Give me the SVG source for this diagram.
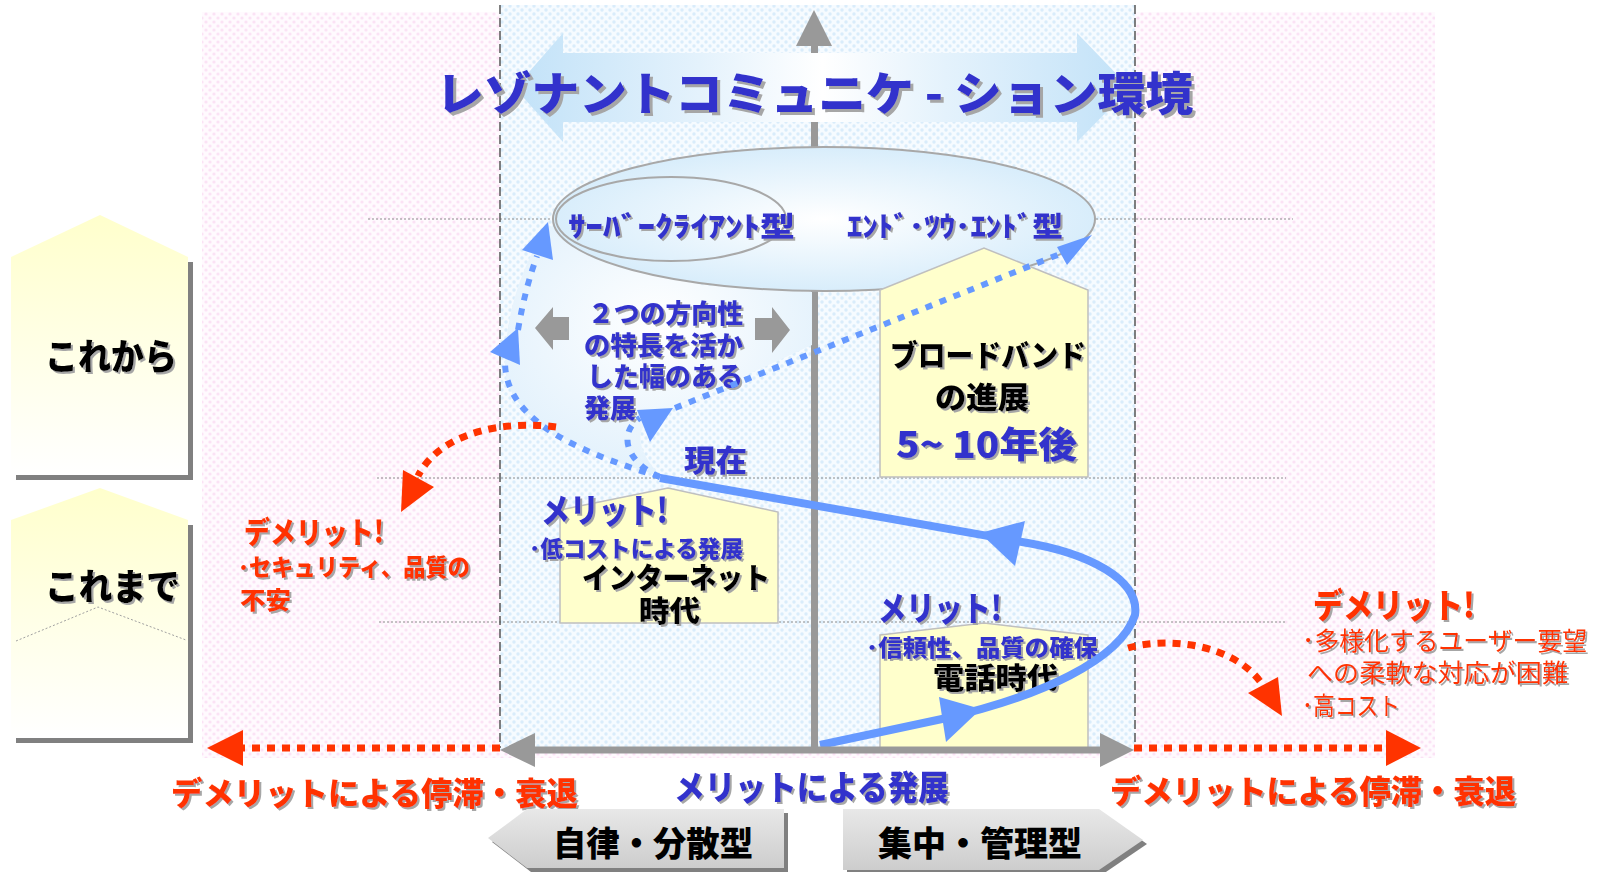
<svg xmlns="http://www.w3.org/2000/svg" width="1599" height="872" viewBox="0 0 1599 872">
<defs>
<pattern id="pinkDots" width="8" height="8" patternUnits="userSpaceOnUse"><rect width="8" height="8" fill="#fffafe"/><circle cx="2" cy="2" r="1.6" fill="#fbe2f5"/><circle cx="6" cy="6" r="1.6" fill="#fbe2f5"/></pattern>
<pattern id="blueDots" width="8" height="8" patternUnits="userSpaceOnUse"><rect width="8" height="8" fill="#f6fbff"/><circle cx="2" cy="2" r="1.7" fill="#d9ecfb"/><circle cx="6" cy="6" r="1.7" fill="#d9ecfb"/></pattern>
<linearGradient id="titleArrowG" x1="0" y1="0" x2="1" y2="0"><stop offset="0" stop-color="#c2e2f8"/><stop offset="0.3" stop-color="#e4f2fc"/><stop offset="0.5" stop-color="#ffffff"/><stop offset="0.7" stop-color="#e4f2fc"/><stop offset="1" stop-color="#c2e2f8"/></linearGradient>
<radialGradient id="ellG" cx="0.5" cy="0.5" r="0.5"><stop offset="0" stop-color="#ffffff"/><stop offset="1" stop-color="#d8edfb"/></radialGradient>
<radialGradient id="glowG" cx="0.5" cy="0.4" r="0.6"><stop offset="0" stop-color="#ffffff"/><stop offset="1" stop-color="#e2f1fc"/></radialGradient>
<linearGradient id="labelG" x1="0" y1="0" x2="0" y2="1"><stop offset="0" stop-color="#ffffcc"/><stop offset="1" stop-color="#ffffff"/></linearGradient>
<linearGradient id="pentG" x1="0" y1="0" x2="0" y2="1"><stop offset="0" stop-color="#e8e8e8"/><stop offset="1" stop-color="#cdcdcd"/></linearGradient>
<filter id="sh" x="-5%" y="-10%" width="115%" height="130%"><feDropShadow dx="2" dy="2" stdDeviation="0.3" flood-color="#a6a6a6" flood-opacity="1"/></filter>
<filter id="sh3" x="-5%" y="-10%" width="115%" height="130%"><feDropShadow dx="3" dy="3" stdDeviation="0.4" flood-color="#a6a6a6" flood-opacity="1"/></filter>
<style>
text{font-family:"Noto Sans CJK JP","Noto Sans CJK SC",sans-serif;font-weight:900;}
.blue{fill:#3333cc;}
.red{fill:#ff3300;}
.blk{fill:#000000;}
.thin{font-weight:normal;}
.guide{stroke:#8c8c8c;stroke-width:1;stroke-dasharray:2 2;fill:none;}
.vdash{stroke:#555555;stroke-width:1.5;stroke-dasharray:9 4;fill:none;}
.gray{fill:#999999;}
.ybox{fill:#ffffcc;stroke:#bfbfbf;stroke-width:1.5;}
.bdot{fill:none;stroke:#6699ff;stroke-width:6;stroke-dasharray:7 8;}
.rdot{fill:none;stroke:#ff3300;stroke-width:7;stroke-dasharray:8 7;}
.bhead{fill:#6699ff;}
.rhead{fill:#ff3300;}
</style>
</defs>

<g id="background">
<rect x="0" y="0" width="1599" height="872" fill="#ffffff"/>
<rect x="202" y="12" width="1233" height="746" fill="url(#pinkDots)"/>
<rect x="500" y="5" width="635" height="745" fill="url(#blueDots)"/>
<line class="guide" x1="368" y1="219" x2="1293" y2="219"/>
<line class="guide" x1="377" y1="478" x2="1286" y2="478"/>
<line class="guide" x1="379" y1="622" x2="1285" y2="622"/>
<line class="vdash" x1="500" y1="5" x2="500" y2="748"/>
<line class="vdash" x1="1135" y1="5" x2="1135" y2="748"/>
</g>

<g id="vertical-axis">
<rect class="gray" x="811" y="44" width="7" height="706"/>
<polygon class="gray" points="814,10 796,46 832,46"/>
</g>

<g id="title">
<polygon points="515,88 563,33 563,53 1077,53 1077,33 1130,88 1077,142 1077,122 563,122 563,142" fill="url(#titleArrowG)"/>
<text class="blue" x="436" y="110" font-size="46" textLength="757" lengthAdjust="spacingAndGlyphs" filter="url(#sh3)">レゾナントコミュニケ - ション環境</text>
</g>

<g id="glow">
<path d="M662,477 C580,450 505,420 505,365 C505,310 525,260 548,225 L700,285 L812,292 L812,345 L675,408 C640,415 625,440 662,477 Z" fill="url(#glowG)"/>
</g>

<g id="model-ellipse">
<ellipse cx="824" cy="219" rx="271" ry="72" fill="url(#ellG)" stroke="#a8a8a8" stroke-width="2"/>
<ellipse cx="671" cy="219" rx="115" ry="42" fill="none" stroke="#a8a8a8" stroke-width="2"/>
<text class="blue" x="568" y="237" font-size="28" textLength="227" lengthAdjust="spacingAndGlyphs" filter="url(#sh)">ｻｰﾊﾞｰｸﾗｲｱﾝﾄ型</text>
<text class="blue" x="847" y="237" font-size="28" textLength="216" lengthAdjust="spacingAndGlyphs" filter="url(#sh)">ｴﾝﾄﾞ･ﾂｳ･ｴﾝﾄﾞ型</text>
</g>

<g id="label-korekara">
<rect x="16" y="262" width="177" height="218" fill="#808080"/>
<polygon points="11,257 100,215 188,257 188,475 11,475" fill="url(#labelG)"/>
<text class="blk" x="45" y="370" font-size="36" textLength="132" lengthAdjust="spacingAndGlyphs" filter="url(#sh)">これから</text>
</g>

<g id="label-koremade">
<rect x="16" y="525" width="177" height="218" fill="#808080"/>
<polygon points="11,520 100,488 188,520 188,738 11,738" fill="url(#labelG)"/>
<polyline points="16,641 98,607 186,640" fill="none" stroke="#a0a0a0" stroke-width="1" stroke-dasharray="2 2"/>
<text class="blk" x="45" y="600" font-size="36" textLength="135" lengthAdjust="spacingAndGlyphs" filter="url(#sh)">これまで</text>
</g>

<g id="broadband">
<polygon class="ybox" points="880,290 984,248 1088,290 1088,477 880,477"/>
<text class="blk" x="890" y="366" font-size="30" textLength="196" lengthAdjust="spacingAndGlyphs" filter="url(#sh)">ブロードバンド</text>
<text class="blk" x="935" y="408" font-size="30" textLength="94" lengthAdjust="spacingAndGlyphs" filter="url(#sh)">の進展</text>
<text class="blue" x="896" y="458" font-size="36" textLength="181" lengthAdjust="spacingAndGlyphs" filter="url(#sh)">5~ 10年後</text>
</g>

<g id="internet">
<polygon class="ybox" points="560,510 668,488 778,512 778,623 560,623"/>
<text class="blue" x="541" y="523" font-size="34" textLength="127" lengthAdjust="spacingAndGlyphs" filter="url(#sh)">メリット!</text>
<text class="blue" x="529" y="557" font-size="23" textLength="214" lengthAdjust="spacingAndGlyphs" filter="url(#sh)">･低コストによる発展</text>
<text class="blk" x="582" y="589" font-size="29" textLength="188" lengthAdjust="spacingAndGlyphs" filter="url(#sh)">インターネット</text>
<text class="blk" x="639" y="622" font-size="29" textLength="61" lengthAdjust="spacingAndGlyphs" filter="url(#sh)">時代</text>
</g>

<g id="telephone">
<polygon class="ybox" points="880,635 984,623 1088,635 1088,748 880,748"/>
<text class="blue" x="878" y="621" font-size="34" textLength="124" lengthAdjust="spacingAndGlyphs" filter="url(#sh)">メリット!</text>
<text class="blue" x="866" y="656" font-size="23" textLength="232" lengthAdjust="spacingAndGlyphs" filter="url(#sh)">･信頼性、品質の確保</text>
<text class="blk" x="933" y="689" font-size="29" textLength="125" lengthAdjust="spacingAndGlyphs" filter="url(#sh)">電話時代</text>
</g>

<g id="two-directions">
<polygon class="gray" points="535,328 553,307 553,317 569,317 569,340 553,340 553,350"/>
<polygon class="gray" points="790,330 772,307 772,318 755,318 755,340 772,340 772,353"/>
<text class="blue" x="588" y="323" font-size="26" textLength="155" lengthAdjust="spacingAndGlyphs" filter="url(#sh)">２つの方向性</text>
<text class="blue" x="584" y="355" font-size="26" textLength="159" lengthAdjust="spacingAndGlyphs" filter="url(#sh)">の特長を活か</text>
<text class="blue" x="587" y="386" font-size="26" textLength="156" lengthAdjust="spacingAndGlyphs" filter="url(#sh)">した幅のある</text>
<text class="blue" x="584" y="418" font-size="26" textLength="52" lengthAdjust="spacingAndGlyphs" filter="url(#sh)">発展</text>
</g>

<g id="now">
<text class="blue" x="684" y="471" font-size="30" textLength="63" lengthAdjust="spacingAndGlyphs" filter="url(#sh)">現在</text>
</g>

<g id="demerit-left">
<text class="red" x="244" y="543" font-size="30" textLength="140" lengthAdjust="spacingAndGlyphs" filter="url(#sh)">デメリット!</text>
<text class="red" x="238" y="576" font-size="24" textLength="232" lengthAdjust="spacingAndGlyphs" filter="url(#sh)">･セキュリティ、品質の</text>
<text class="red" x="240" y="609" font-size="24" textLength="51" lengthAdjust="spacingAndGlyphs" filter="url(#sh)">不安</text>
</g>

<g id="demerit-right">
<text class="red" x="1313" y="618" font-size="34" textLength="162" lengthAdjust="spacingAndGlyphs" filter="url(#sh)">デメリット!</text>
<text class="red thin" x="1302" y="650" font-size="25" textLength="285" lengthAdjust="spacingAndGlyphs" filter="url(#sh)">･多様化するユーザー要望</text>
<text class="red thin" x="1307" y="682" font-size="25" textLength="261" lengthAdjust="spacingAndGlyphs" filter="url(#sh)">への柔軟な対応が困難</text>
<text class="red thin" x="1302" y="715" font-size="25" textLength="98" lengthAdjust="spacingAndGlyphs" filter="url(#sh)">･高コスト</text>
</g>

<g id="connectors">
<path class="bdot" d="M660,477 C590,455 505,425 505,362"/>
<path class="bdot" d="M518,330 C523,300 530,275 537,256"/>
<path class="bdot" d="M660,477 C625,462 618,432 640,418"/>
<path class="bdot" d="M675,408 L1060,254"/>
<polygon class="bhead" points="548,222 522,250 553,260"/>
<polygon class="bhead" points="518,328 490,352 520,365"/>
<polygon class="bhead" points="650,442 637,410 673,408"/>
<polygon class="bhead" points="1092,235 1057,247 1067,265"/>
<path d="M820,745 L942,719 C1040,697 1120,660 1135,615 C1140,580 1090,553 1022,542 L660,478" fill="none" stroke="#6699ff" stroke-width="8"/>
<polygon class="bhead" points="981,709 939,697 946,742"/>
<polygon class="bhead" points="980,533 1025,521 1015,566"/>
<path class="rdot" d="M556,427 C505,420 440,432 418,476"/>
<polygon class="rhead" points="403,470 434,487 401,512"/>
<path class="rdot" d="M1128,648 C1170,636 1235,645 1262,684"/>
<polygon class="rhead" points="1248,693 1278,677 1282,716"/>
<line class="rdot" x1="500" y1="748" x2="243" y2="748"/>
<polygon class="rhead" points="243,730 207,748 243,766"/>
<line class="rdot" x1="1134" y1="748" x2="1386" y2="748"/>
<polygon class="rhead" points="1386,730 1421,748 1386,766"/>
</g>

<g id="horizontal-axis">
<rect class="gray" x="533" y="746.5" width="569" height="7"/>
<polygon class="gray" points="500,750 535,733 535,767"/>
<polygon class="gray" points="1134,750 1100,733 1100,767"/>
</g>

<g id="axis-labels">
<text class="red" x="171" y="805" font-size="32" textLength="407" lengthAdjust="spacingAndGlyphs" filter="url(#sh)">デメリットによる停滞・衰退</text>
<text class="blue" x="674" y="800" font-size="34" textLength="275" lengthAdjust="spacingAndGlyphs" filter="url(#sh)">メリットによる発展</text>
<text class="red" x="1110" y="803" font-size="32" textLength="406" lengthAdjust="spacingAndGlyphs" filter="url(#sh)">デメリットによる停滞・衰退</text>
</g>

<g id="decentralized">
<polygon points="492,842 531,813 788,813 788,872 531,872" fill="#808080"/>
<polygon points="488,838 527,809 784,809 784,868 527,868" fill="url(#pentG)"/>
<text class="blk" x="553" y="856" font-size="34" textLength="200" lengthAdjust="spacingAndGlyphs">自律・分散型</text>
</g>

<g id="centralized">
<polygon points="847,813 1103,813 1147,844 1103,874 847,874" fill="#808080"/>
<polygon points="843,809 1099,809 1143,840 1099,870 843,870" fill="url(#pentG)"/>
<text class="blk" x="878" y="856" font-size="34" textLength="204" lengthAdjust="spacingAndGlyphs">集中・管理型</text>
</g>
</svg>
